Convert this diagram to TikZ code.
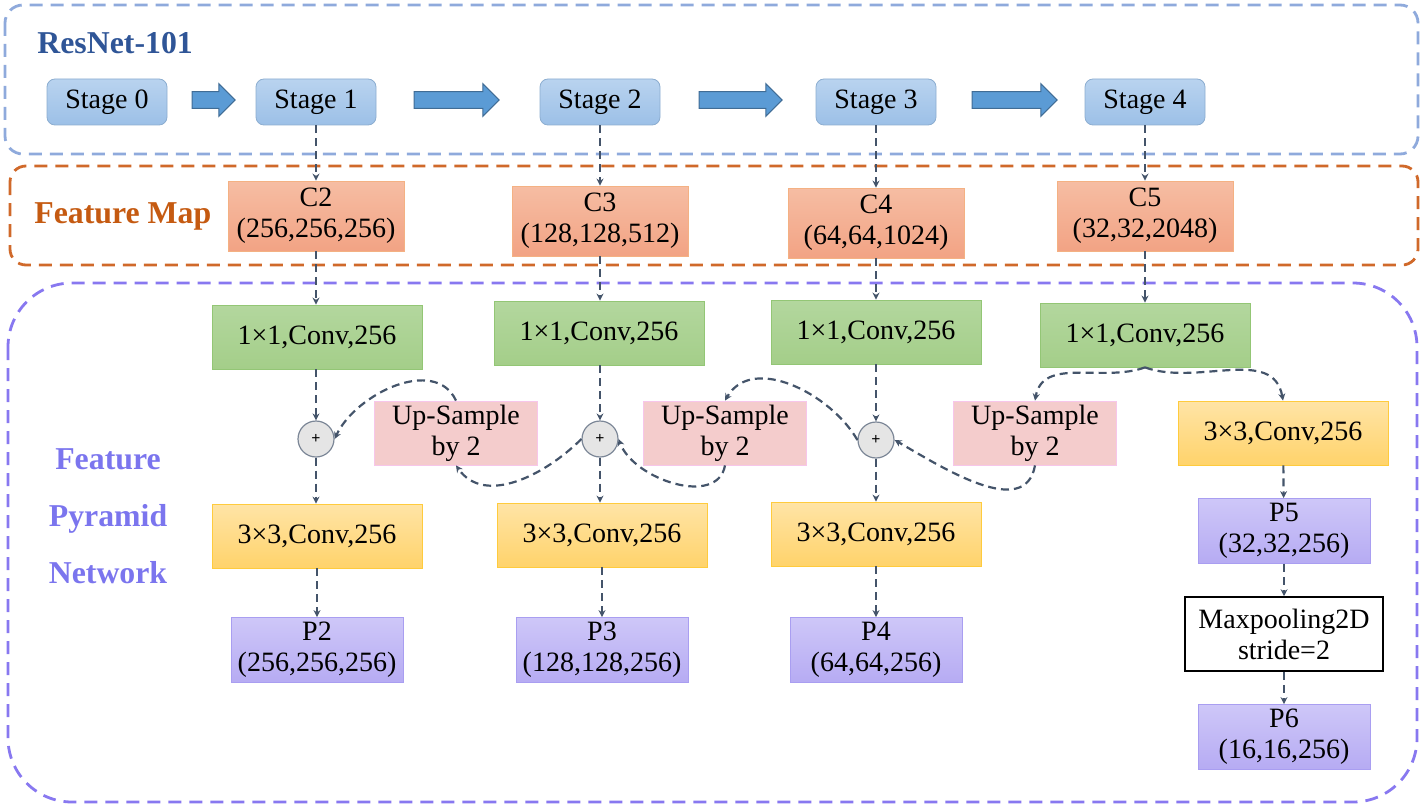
\documentclass[tikz,border=0pt]{standalone}
\usepackage{fontspec}
\setmainfont{Liberation Serif}
\usetikzlibrary{arrows.meta, shapes.arrows}
\definecolor{resblue}{HTML}{2F5597}
\definecolor{fmorange}{HTML}{C55A11}
\definecolor{fpnpurple}{HTML}{7B75EE}
\definecolor{linkgray}{HTML}{44546A}
\definecolor{boxblue}{HTML}{8FAADC}
\definecolor{boxorange}{HTML}{D0692A}
\definecolor{boxpurple}{HTML}{8878F0}
\definecolor{blockblue}{HTML}{5B9BD5}
\definecolor{stagetop}{HTML}{B9D3EF}
\definecolor{stagebot}{HTML}{9CC0E7}
\definecolor{ctop}{HTML}{F6BDA3}
\definecolor{cbot}{HTML}{F2A384}
\definecolor{cborder}{HTML}{F4B183}
\definecolor{gtop}{HTML}{B3D79E}
\definecolor{gbot}{HTML}{A4CE89}
\definecolor{gborder}{HTML}{93C675}
\definecolor{ytop}{HTML}{FFE4A6}
\definecolor{ybot}{HTML}{FFD36B}
\definecolor{yborder}{HTML}{FFCB3D}
\definecolor{ufill}{HTML}{F4CCCC}
\definecolor{uborder}{HTML}{F7C6EA}
\definecolor{ptop}{HTML}{CEC7F8}
\definecolor{pbot}{HTML}{B6ABF3}
\definecolor{pborder}{HTML}{A99EF1}

\begin{document}
\begin{tikzpicture}[x=0.5pt, y=0.5pt,
    every node/.style={font=\fontsize{14}{15.5}\selectfont, inner sep=0pt},
    title/.style={font=\fontsize{15.9}{28.5}\selectfont\bfseries},
    region/.style={line width=1.4pt, dash pattern=on 6.5pt off 4pt},
    stagebox/.style={draw=stagebot!90!black, top color=stagetop, bottom color=stagebot,
      rounded corners=4pt, minimum width=60pt, minimum height=23pt},
    blk/.style={single arrow, draw=blockblue!70!black, fill=blockblue, line width=0.5pt,
      inner sep=3.9pt, single arrow head extend=4pt, single arrow tip angle=90,
      minimum width=16pt},
    cmap/.style={draw=cborder, top color=ctop, bottom color=cbot, align=center,
      minimum width=88pt, minimum height=35pt},
    conv1/.style={draw=gborder, top color=gtop, bottom color=gbot,
      minimum width=105pt, minimum height=32pt},
    conv3/.style={draw=yborder, top color=ytop, bottom color=ybot,
      minimum width=105pt, minimum height=32pt},
    upbox/.style={draw=uborder, fill=ufill, align=center,
      minimum width=81.5pt, minimum height=32pt},
    pmap/.style={draw=pborder, top color=ptop, bottom color=pbot, align=center,
      minimum width=86pt, minimum height=32.5pt},
    plus/.style={circle, draw=linkgray!70, fill=black!10, line width=0.6pt,
      minimum size=18pt, font=\fontsize{8}{8}\selectfont\bfseries},
    link/.style={draw=linkgray, line width=1.1pt, dash pattern=on 4pt off 2.5pt,
      -{Stealth[length=3.5pt, width=3.5pt]}}
  ]
  \useasboundingbox (0,0) rectangle (1423,-808);

  \draw[region, boxblue, rounded corners=9pt] (5,-5) rectangle (1418,-154);
  \draw[region, boxorange, rounded corners=8pt] (10,-166) rectangle (1418,-265);
  \draw[region, boxpurple, rounded corners=32pt] (8,-283) rectangle (1417,-802);

  \node[title, text=resblue, anchor=west] (resname) at (37,-43) {ResNet-101};
  \node[title, text=fmorange, anchor=west] (fmname) at (34,-216) {Feature Map};
  \node[title, text=fpnpurple, align=center] (fpnname) at (108,-516) {Feature\\Pyramid\\Network};

  \node[stagebox] (s0) at (107,-102) {Stage 0};
  \node[stagebox] (s1) at (316,-102) {Stage 1};
  \node[stagebox] (s2) at (600,-102) {Stage 2};
  \node[stagebox] (s3) at (876,-102) {Stage 3};
  \node[stagebox] (s4) at (1145,-102) {Stage 4};

  \node[blk, minimum height=21.5pt] (a01) at (209.5,-100) {};
  \node[blk, minimum height=42.5pt] (a12) at (452.5,-100) {};
  \node[blk, minimum height=41.5pt] (a23) at (736.5,-100) {};
  \node[blk, minimum height=42.5pt] (a34) at (1010.5,-100) {};

  \node[cmap] (c2) at (316,-216) {C2\\(256,256,256)};
  \node[cmap] (c3) at (600,-221) {C3\\(128,128,512)};
  \node[cmap] (c4) at (876,-223) {C4\\(64,64,1024)};
  \node[cmap] (c5) at (1145,-216) {C5\\(32,32,2048)};

  \node[conv1] (g2) at (317,-337) {1×1,Conv,256};
  \node[conv1] (g3) at (599,-333) {1×1,Conv,256};
  \node[conv1] (g4) at (876,-332) {1×1,Conv,256};
  \node[conv1] (g5) at (1145,-335) {1×1,Conv,256};

  \node[plus] (m2) at (316,-439) {+};
  \node[plus] (m3) at (600,-439) {+};
  \node[plus] (m4) at (876,-440) {+};

  \node[upbox] (u1) at (456,-433) {Up-Sample\\by 2};
  \node[upbox] (u2) at (725,-433) {Up-Sample\\by 2};
  \node[upbox] (u3) at (1035,-433) {Up-Sample\\by 2};

  \node[conv3] (y2) at (317,-536) {3×3,Conv,256};
  \node[conv3] (y3) at (602,-535) {3×3,Conv,256};
  \node[conv3] (y4) at (876,-534) {3×3,Conv,256};
  \node[conv3] (y5) at (1283,-433) {3×3,Conv,256};

  \node[pmap] (p2) at (317,-650) {P2\\(256,256,256)};
  \node[pmap] (p3) at (602,-650) {P3\\(128,128,256)};
  \node[pmap] (p4) at (876,-650) {P4\\(64,64,256)};
  \node[pmap] (p5) at (1284,-531) {P5\\(32,32,256)};
  \node[draw, line width=0.8pt, fill=white, align=center, minimum width=99pt, minimum height=37pt] (mp) at (1284,-634) {Maxpooling2D\\stride=2};
  \node[pmap] (p6) at (1284,-737) {P6\\(16,16,256)};

  \draw[link] (s1) -- (c2);
  \draw[link] (s2) -- (c3);
  \draw[link] (s3) -- (c4);
  \draw[link] (s4) -- (c5);
  \draw[link] (c2) -- (g2.north -| c2);
  \draw[link] (c3) -- (g3.north -| c3);
  \draw[link] (c4) -- (g4.north -| c4);
  \draw[link] (c5) -- (g5);
  \draw[link] (g2.south -| m2) -- (m2);
  \draw[link] (g3.south -| m3) -- (m3);
  \draw[link] (g4.south -| m4) -- (m4);
  \draw[link] (m2) -- (y2.north -| m2);
  \draw[link] (m3) -- (y3.north -| m3);
  \draw[link] (m4) -- (y4.north -| m4);
  \draw[link] (y2.south -| p2) -- (p2);
  \draw[link] (y3) -- (p3);
  \draw[link] (y4) -- (p4);
  \draw[link] (g5.south) to[out=200, in=80] (u3.north);
  \draw[link] (g5.south) to[out=-20, in=100] (y5.north);
  \draw[link] (u3.south) to[out=-100, in=-30] (m4.east);
  \draw[link] (m4.west) to[out=120, in=60] (u2.north);
  \draw[link] (u2.south) to[out=-100, in=-70] (m3.east);
  \draw[link] (m3.west) to[out=225, in=-55] (u1.south);
  \draw[link] (u1.north) to[out=115, in=65] (m2.east);
  \draw[link] (y5) -- (p5);
  \draw[link] (p5) -- (mp);
  \draw[link] (mp) -- (p6);
\end{tikzpicture}
\end{document}
